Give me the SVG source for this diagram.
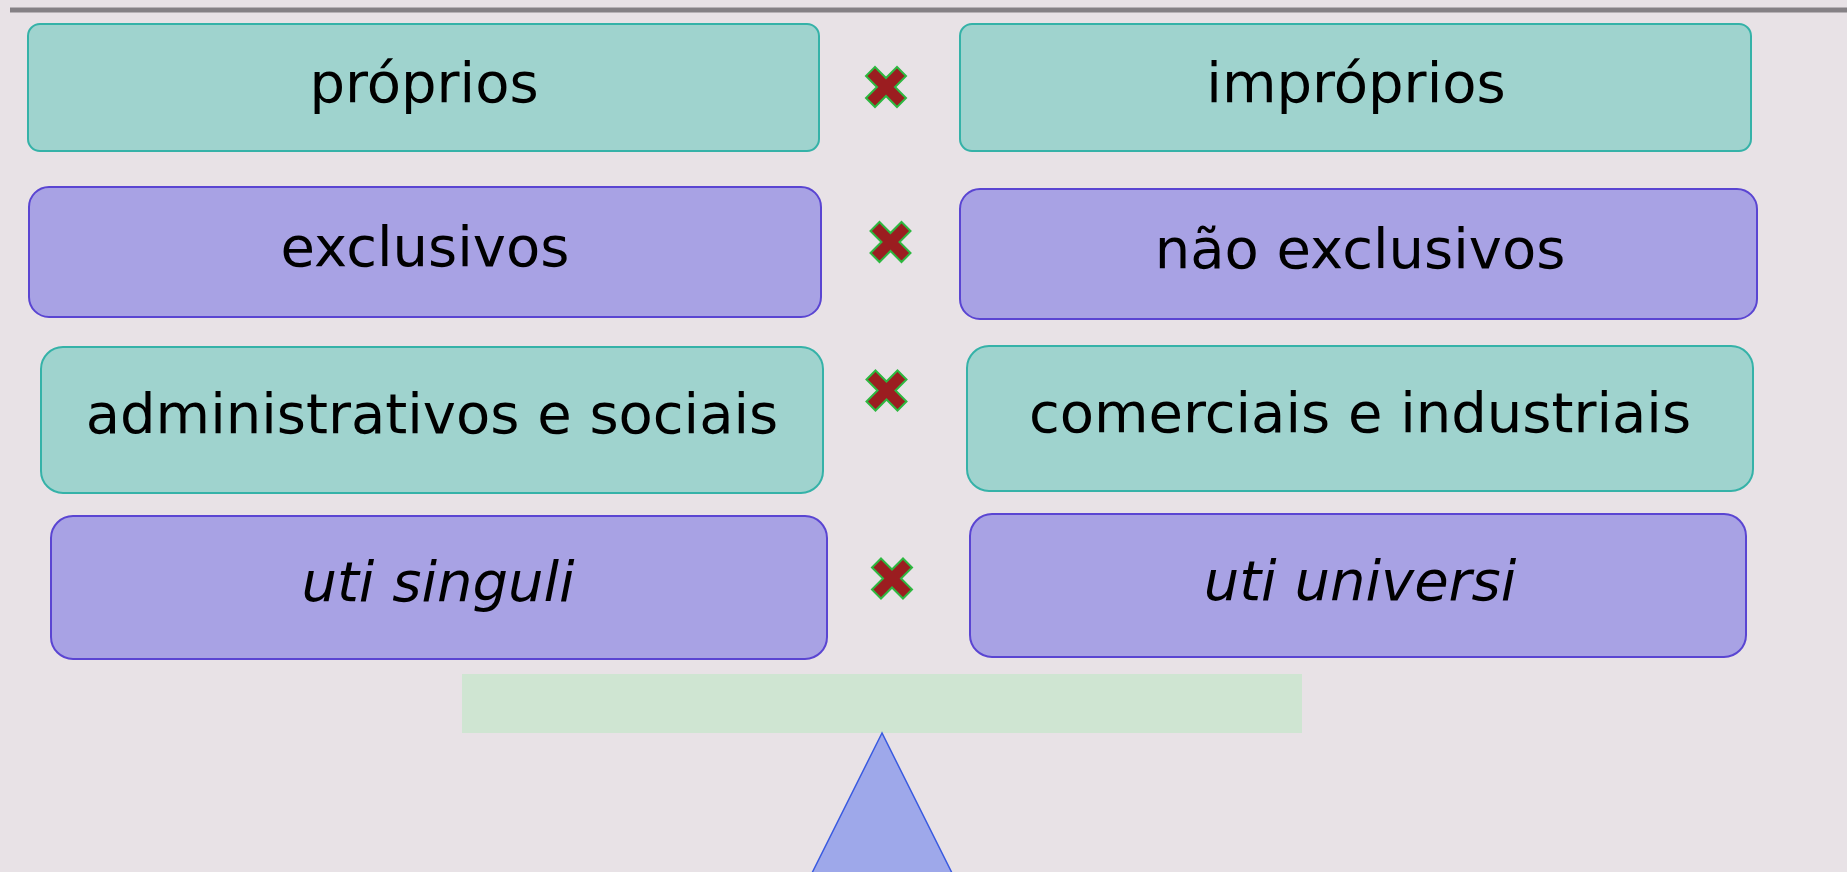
<svg xmlns="http://www.w3.org/2000/svg" width="1847" height="872" viewBox="0 0 1847 872">
  <defs>
    <style>
      .teal { fill: #9FD3CE; stroke: #35B2A8; stroke-width: 2; }
      .purple { fill: #A8A2E4; stroke: #5A45D2; stroke-width: 2; }
      .lbl { font-family: "DejaVu Sans", Verdana, sans-serif; font-size: 56px; fill: #000; text-anchor: middle; }
      .it { font-style: italic; }
      .xm { fill: #9B1D20; stroke: #2DB840; stroke-width: 2; stroke-linejoin: miter; }
    </style>
    <polygon id="xmark" points="-11,-20 0,-9 11,-20 20,-11 9,0 20,11 11,20 0,9 -11,20 -20,11 -9,0 -20,-11"/>
  </defs>
  <rect x="0" y="0" width="1847" height="872" fill="#E8E2E6"/>
  <line x1="10" y1="10" x2="1847" y2="10" stroke="#858185" stroke-width="5"/>

  <g id="node-proprios">
    <rect class="teal" x="28" y="24" width="791" height="127" rx="12"/>
    <text class="lbl" x="424" y="102">próprios</text>
  </g>
  <g id="node-improprios">
    <rect class="teal" x="960" y="24" width="791" height="127" rx="12"/>
    <text class="lbl" x="1356" y="102">impróprios</text>
  </g>
  <g id="node-exclusivos">
    <rect class="purple" x="29" y="187" width="792" height="130" rx="20"/>
    <text class="lbl" x="425" y="266">exclusivos</text>
  </g>
  <g id="node-nao-exclusivos">
    <rect class="purple" x="960" y="189" width="797" height="130" rx="20"/>
    <text class="lbl" x="1360" y="268">não exclusivos</text>
  </g>
  <g id="node-administrativos">
    <rect class="teal" x="41" y="347" width="782" height="146" rx="22"/>
    <text class="lbl" x="432" y="433">administrativos e sociais</text>
  </g>
  <g id="node-comerciais">
    <rect class="teal" x="967" y="346" width="786" height="145" rx="22"/>
    <text class="lbl" x="1360" y="432">comerciais e industriais</text>
  </g>
  <g id="node-uti-singuli">
    <rect class="purple" x="51" y="516" width="776" height="143" rx="22"/>
    <text class="lbl it" x="438" y="601">uti singuli</text>
  </g>
  <g id="node-uti-universi">
    <rect class="purple" x="970" y="514" width="776" height="143" rx="22"/>
    <text class="lbl it" x="1360" y="600">uti universi</text>
  </g>

  <g id="connectors">
    <use href="#xmark" class="xm" x="886" y="87"/>
    <use href="#xmark" class="xm" x="890.5" y="242"/>
    <use href="#xmark" class="xm" x="886.5" y="390.5"/>
    <use href="#xmark" class="xm" x="892" y="578.5"/>
  </g>

  <g id="balance">
    <rect x="462" y="674" width="840" height="59" fill="#CFE5D2"/>
    <polygon points="882,733 808,881 956,881" fill="#9EA8EA" stroke="#3A5BE0" stroke-width="1.5"/>
  </g>
</svg>
